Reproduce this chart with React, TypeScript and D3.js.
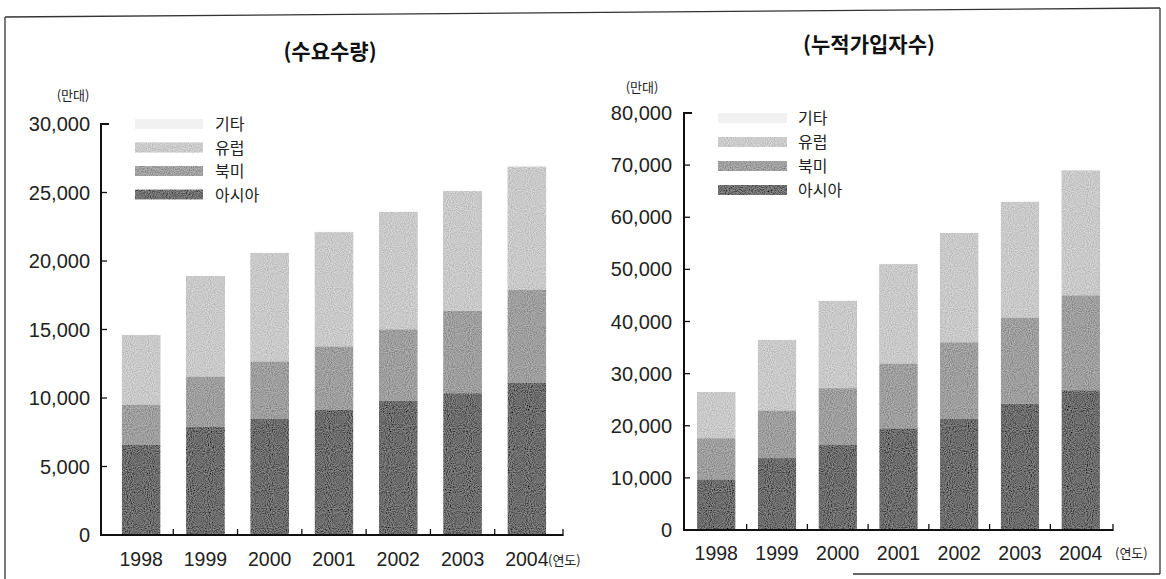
import React from 'react';
import * as d3 from 'd3';

const years = ['1998', '1999', '2000', '2001', '2002', '2003', '2004'];
const seriesNames = ['아시아', '북미', '유럽', '기타'];
const legendOrder = ['기타', '유럽', '북미', '아시아'];
const seriesColors = ['#6c6c6c', '#9e9e9e', '#c9c9c9', '#fcfcfc'];
const legendColors = ['#707070', '#a0a0a0', '#cbcbcb', '#f1f1f1'];

// 수요수량 (만대)
const demandAsia = [6600, 7900, 8500, 9150, 9800, 10350, 11100];
const demandNorthAmerica = [2900, 3650, 4150, 4600, 5200, 6000, 6800];
const demandEurope = [5100, 7350, 7950, 8350, 8600, 8750, 9000];
const demandOther = [100, 120, 120, 150, 150, 150, 180];
const demandTicks = [0, 5000, 10000, 15000, 20000, 25000, 30000];

// 누적가입자수 (만대)
const subsAsia = [9700, 13800, 16400, 19500, 21300, 24200, 26800];
const subsNorthAmerica = [7900, 9100, 10800, 12400, 14700, 16500, 18200];
const subsEurope = [8900, 13600, 16800, 19100, 21000, 22300, 24000];
const subsOther = [200, 250, 300, 300, 350, 400, 400];
const subsTicks = [0, 10000, 20000, 30000, 40000, 50000, 60000, 70000, 80000];

const NUM_FONT = '"Liberation Sans", Arial, sans-serif';
const KR_FONT = '"Noto Sans CJK KR", "Noto Sans", sans-serif';
const fmt = d3.format(',');

type ChartProps = {
  title: string;
  titleX: number;
  titleY: number;
  unitX: number;
  unitY: number;
  series: number[][];
  ticks: number[];
  axisX: number;
  axisEnd: number;
  yTop: number;
  yBottom: number;
  bandStart: number;
  bandEnd: number;
  padInner: number;
  padOuter: number;
  labelRight: number;
  yearBaseline: number;
  yearUnitX: number;
  yearUnitY: number;
  swatchX: number;
  swatchW: number;
  legendLabelX: number;
  legendY0: number;
  legendStep: number;
};

function StackedChart(p: ChartProps) {
  const table = years.map((yr, i) => {
    const row: any = { year: yr };
    seriesNames.forEach((s, k) => (row[s] = p.series[k][i]));
    return row;
  });
  const stacked = d3.stack<any>().keys(seriesNames)(table);
  const x = d3
    .scaleBand<string>()
    .domain(years)
    .range([p.bandStart, p.bandEnd])
    .paddingInner(p.padInner)
    .paddingOuter(p.padOuter);
  const yMax = p.ticks[p.ticks.length - 1];
  const y = d3.scaleLinear().domain([0, yMax]).range([p.yBottom, p.yTop]);
  const bw = x.bandwidth();
  const gap = x.step() - bw;

  const layerRects = (layer: any, k: number) => (
    <g key={layer.key} fill={seriesColors[k]}>
      {layer.map((d: any, i: number) => (
        <rect
          key={i}
          x={x(years[i])!}
          y={y(d[1])}
          width={bw}
          height={Math.max(0, y(d[0]) - y(d[1]))}
        />
      ))}
    </g>
  );

  return (
    <g>
      <text x={p.titleX} y={p.titleY} textAnchor="middle" fontFamily={KR_FONT} fontWeight="bold" fontSize={21} fill="#111">
        {p.title}
      </text>
      <text x={p.unitX} y={p.unitY} textAnchor="middle" fontFamily={KR_FONT} fontSize={13} fill="#222">
        (만대)
      </text>

      {/* bars */}
      <g filter="url(#grain)">{stacked.slice(0, 3).map((layer, k) => layerRects(layer, k))}</g>
      {layerRects(stacked[3], 3)}

      {/* y axis */}
      <line x1={p.axisX} y1={p.yTop - 1} x2={p.axisX} y2={p.yBottom + 1} stroke="#111" strokeWidth={2} />
      {p.ticks.map((t, i) => (
        <g key={t}>
          {i > 0 && (
            <line
              x1={p.axisX}
              y1={y(t)}
              x2={p.axisX + (i === p.ticks.length - 1 ? 8 : 6)}
              y2={y(t)}
              stroke="#111"
              strokeWidth={i === p.ticks.length - 1 ? 2 : 1.3}
            />
          )}
          <text x={p.labelRight} y={y(t) + 7} textAnchor="end" fontFamily={NUM_FONT} fontSize={20} fill="#222">
            {fmt(t)}
          </text>
        </g>
      ))}

      {/* x axis */}
      <line x1={p.axisX - 1} y1={p.yBottom} x2={p.axisEnd} y2={p.yBottom} stroke="#111" strokeWidth={2} />
      {years.slice(0, -1).map((yr) => (
        <line
          key={yr}
          x1={x(yr)! + bw + gap / 2}
          y1={p.yBottom}
          x2={x(yr)! + bw + gap / 2}
          y2={p.yBottom - 6}
          stroke="#111"
          strokeWidth={1.3}
        />
      ))}
      <line x1={p.axisEnd} y1={p.yBottom + 1} x2={p.axisEnd} y2={p.yBottom - 6} stroke="#111" strokeWidth={1.3} />
      {years.map((yr) => (
        <text
          key={yr}
          x={x(yr)! + bw / 2}
          y={p.yearBaseline}
          textAnchor="middle"
          fontFamily={NUM_FONT}
          fontSize={19.5}
          fill="#222"
        >
          {yr}
        </text>
      ))}
      <text x={p.yearUnitX} y={p.yearUnitY} fontFamily={KR_FONT} fontSize={13} fill="#222">
        (연도)
      </text>

      {/* legend */}
      {legendOrder.map((name, i) => {
        const k = seriesNames.indexOf(name);
        const cy = p.legendY0 + i * p.legendStep;
        return (
          <g key={name}>
            <rect
              x={p.swatchX}
              y={cy - 5}
              width={p.swatchW}
              height={10}
              fill={legendColors[k]}
              filter={k < 3 ? 'url(#grain)' : undefined}
            />
            <text x={p.legendLabelX} y={cy + 6} fontFamily={KR_FONT} fontSize={16} fill="#222">
              {name}
            </text>
          </g>
        );
      })}
    </g>
  );
}

export default function App() {
  return (
    <svg
      width={1166}
      height={579}
      viewBox="0 0 1166 579"
      style={{ position: 'absolute', left: 0, top: 0, background: '#fff' }}
    >
      <defs>
        <filter id="grain" x="0" y="0" width="100%" height="100%" filterUnits="objectBoundingBox">
          <feTurbulence type="fractalNoise" baseFrequency="0.95" numOctaves="1" seed="3" result="noise" />
          <feColorMatrix
            in="noise"
            type="matrix"
            values="1 0 0 0 0  1 0 0 0 0  1 0 0 0 0  0 0 0 0 1"
            result="gray"
          />
          <feComposite in="SourceGraphic" in2="gray" operator="arithmetic" k1="0" k2="1" k3="0.5" k4="-0.25" result="mix" />
          <feComposite in="mix" in2="SourceGraphic" operator="in" />
        </filter>
      </defs>
      <rect x={0} y={0} width={1166} height={579} fill="#fff" />

      {/* frame */}
      <g stroke="#333" strokeWidth={1.3} fill="none">
        <line x1={5} y1={17} x2={1160} y2={8} />
        <line x1={5} y1={17} x2={5} y2={579} />
        <line x1={1160} y1={8} x2={1160} y2={574} />
        <line x1={853} y1={574} x2={1160} y2={574} />
      </g>

      <StackedChart
        title="(수요수량)"
        titleX={330}
        titleY={59}
        unitX={73}
        unitY={100}
        series={[demandAsia, demandNorthAmerica, demandEurope, demandOther]}
        ticks={demandTicks}
        axisX={101}
        axisEnd={563}
        yTop={124}
        yBottom={535}
        bandStart={109}
        bandEnd={559}
        padInner={0.4}
        padOuter={0.2}
        labelRight={90}
        yearBaseline={566}
        yearUnitX={548}
        yearUnitY={565}
        swatchX={135}
        swatchW={68}
        legendLabelX={215}
        legendY0={124}
        legendStep={23.5}
      />
      <StackedChart
        title="(누적가입자수)"
        titleX={869}
        titleY={52}
        unitX={642}
        unitY={92}
        series={[subsAsia, subsNorthAmerica, subsEurope, subsOther]}
        ticks={subsTicks}
        axisX={684}
        axisEnd={1113}
        yTop={113}
        yBottom={530}
        bandStart={685}
        bandEnd={1112}
        padInner={0.37}
        padOuter={0.2}
        labelRight={672}
        yearBaseline={560}
        yearUnitX={1115}
        yearUnitY={558}
        swatchX={718}
        swatchW={69}
        legendLabelX={798}
        legendY0={118}
        legendStep={24}
      />
    </svg>
  );
}
